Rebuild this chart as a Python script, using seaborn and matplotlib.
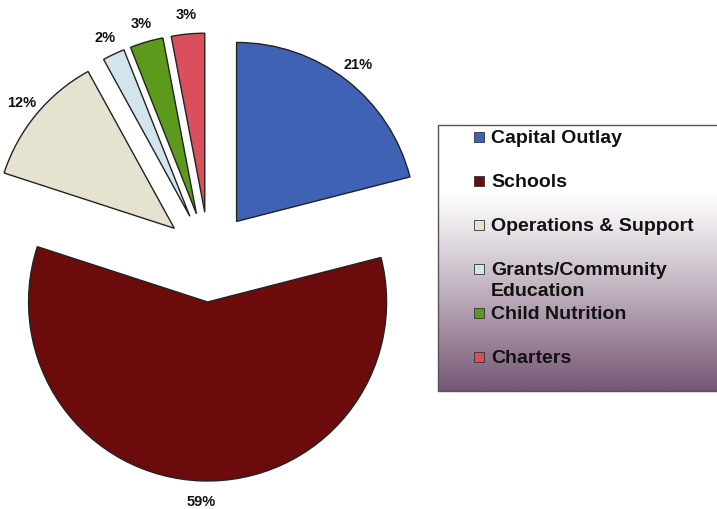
import matplotlib
matplotlib.use("Agg")
import matplotlib.pyplot as plt
import seaborn as sns
import numpy as np
from matplotlib.patches import Rectangle

sns.set_theme(style="white")
plt.rcParams['font.family'] = ['Liberation Sans', 'DejaVu Sans']

categories = ["Capital Outlay", "Schools", "Operations & Support",
              "Grants/Community\nEducation", "Child Nutrition", "Charters"]
values = [21, 59, 12, 2, 3, 3]
colors = ["#3f62b4", "#6c0b0b", "#e6e2d0", "#d2e4ee", "#5c9a1e", "#d9505c"]

W, H = 717, 510
fig = plt.figure(figsize=(W / 100, H / 100), dpi=100)
ax = fig.add_axes([0, 0, 1, 1])

wedges, texts, autotexts = ax.pie(
    values, colors=colors, startangle=90, counterclock=False,
    radius=179, center=(209, H - 258), explode=[45] * len(values),
    autopct='%.0f%%', pctdistance=1.11,
    wedgeprops=dict(edgecolor='#222222', linewidth=1.0),
    textprops=dict(fontsize=10.5, fontweight='bold', color='#111111'),
    frame=True)
ax.set_xlim(0, W)
ax.set_ylim(0, H)
ax.set_aspect('equal')
ax.axis('off')

# legend box with gradient
lx0, lx1, ly0, ly1 = 438, 720, H - 392, H - 126
grad = np.linspace(0, 1, 256)
top_c = np.array([1.0, 1.0, 1.0])
bot_c = np.array([0x76, 0x56, 0x74]) / 255
t = np.clip((grad - 0.25) / 0.75, 0, 1) ** 1.1
img = (top_c[None, :] * (1 - t[:, None]) + bot_c[None, :] * t[:, None])
img = img[:, None, :]
ax.imshow(img, extent=(lx0, lx1, ly0, ly1), origin='upper', aspect='auto', zorder=1)
ax.add_patch(Rectangle((lx0, ly0), lx1 - lx0, ly1 - ly0, fill=False,
                       edgecolor='#555555', linewidth=1.0, zorder=2))
ax.set_xlim(0, W)
ax.set_ylim(0, H)

for i, (lab, col) in enumerate(zip(categories, colors)):
    yc = H - (138 + 44 * i)
    ax.add_patch(Rectangle((474, yc - 5), 10, 10, facecolor=col,
                           edgecolor='#333333', linewidth=0.6, zorder=3))
    ax.text(491, yc + 8, lab, fontsize=14, fontweight='bold', color='#111111',
            va='top', ha='left', linespacing=1.3, zorder=3)

fig.savefig("out.png", dpi=100)
